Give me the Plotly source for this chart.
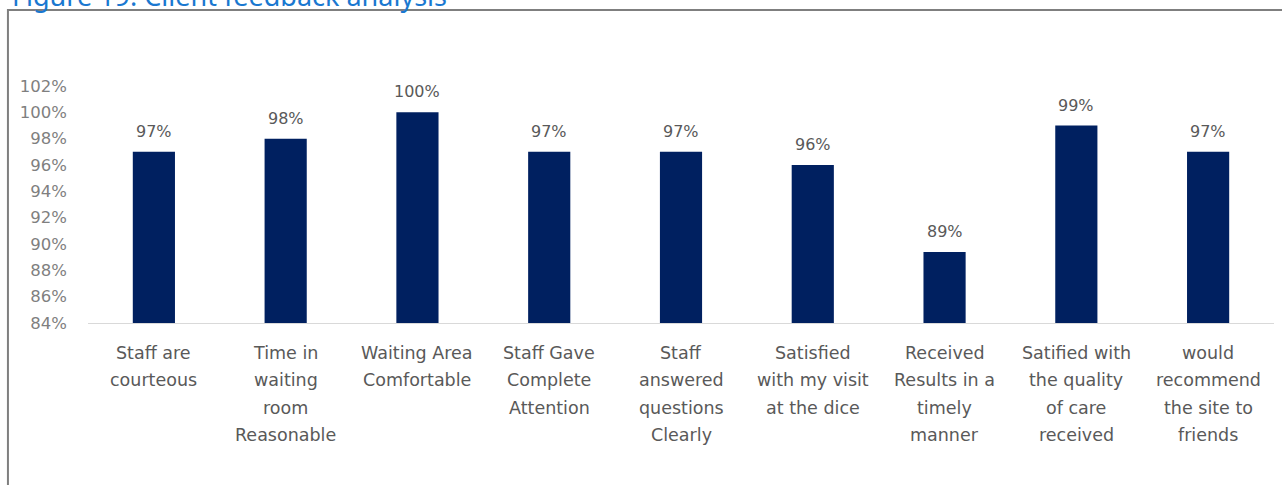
import plotly.graph_objects as go

categories = [
    "Staff are courteous",
    "Time in waiting room Reasonable",
    "Waiting Area Comfortable",
    "Staff Gave Complete Attention",
    "Staff answered questions Clearly",
    "Satisfied with my visit at the dice",
    "Received Results in a timely manner",
    "Satified with the quality of care received",
    "would recommend the site to friends",
]
label_lines = [
    ["Staff are", "courteous"],
    ["Time in", "waiting", "room", "Reasonable"],
    ["Waiting Area", "Comfortable"],
    ["Staff Gave", "Complete", "Attention"],
    ["Staff", "answered", "questions", "Clearly"],
    ["Satisfied", "with my visit", "at the dice"],
    ["Received", "Results in a", "timely", "manner"],
    ["Satified with", "the quality", "of care", "received"],
    ["would", "recommend", "the site to", "friends"],
]
values = [97, 98, 100, 97, 97, 96, 89.4, 99, 97]
value_labels = ["97%", "98%", "100%", "97%", "97%", "96%", "89%", "99%", "97%"]
tick_vals = [84, 86, 88, 90, 92, 94, 96, 98, 100, 102]
tick_text = [f"{v}%" for v in tick_vals]
title_text = "Figure 19: Client feedback analysis"

FONT = "DejaVu Sans"
fig = go.Figure()
fig.add_trace(go.Bar(
    x=categories, y=values,
    marker=dict(color="#002060", line=dict(width=0)),
    width=0.32,
    hoverinfo="skip",
))

annotations = []
for cat, v, lab in zip(categories, values, value_labels):
    annotations.append(dict(
        x=cat, y=v, xref="x", yref="y", yanchor="bottom", yshift=9,
        text=lab, showarrow=False,
        font=dict(family=FONT, size=16, color="#595959"),
    ))
for cat, lines in zip(categories, label_lines):
    for i, ln in enumerate(lines):
        annotations.append(dict(
            x=cat, y=0, xref="x", yref="paper", yanchor="top",
            yshift=-18 - 27.3 * i, text=ln, showarrow=False,
            font=dict(family=FONT, size=17.5, color="#595959"),
        ))
annotations.append(dict(
    x=-0.0658, y=1.296, xref="paper", yref="paper", xanchor="left", yanchor="bottom",
    text=title_text, showarrow=False,
    font=dict(family="Noto Sans", size=27, color="#1a78d0"),
))

fig.update_layout(
    width=1282, height=485,
    margin=dict(l=88, r=8, t=86, b=162),
    paper_bgcolor="white", plot_bgcolor="white",
    showlegend=False,
    annotations=annotations,
    shapes=[dict(type="rect", xref="paper", yref="paper",
                 x0=-0.0675, x1=1.2, y0=-1.0, y1=1.3207,
                 line=dict(color="#7f7f7f", width=2), layer="below")],
    xaxis=dict(showticklabels=False, showgrid=False, zeroline=False,
               showline=True, linecolor="#d9d9d9", linewidth=1, ticks=""),
    yaxis=dict(range=[84, 102], tickvals=tick_vals, ticktext=tick_text,
               showgrid=False, zeroline=False, showline=False, ticks="",
               ticklabelstandoff=20,
               tickfont=dict(family=FONT, size=16.5, color="#7f7f7f")),
)
fig.write_html("out.html")
